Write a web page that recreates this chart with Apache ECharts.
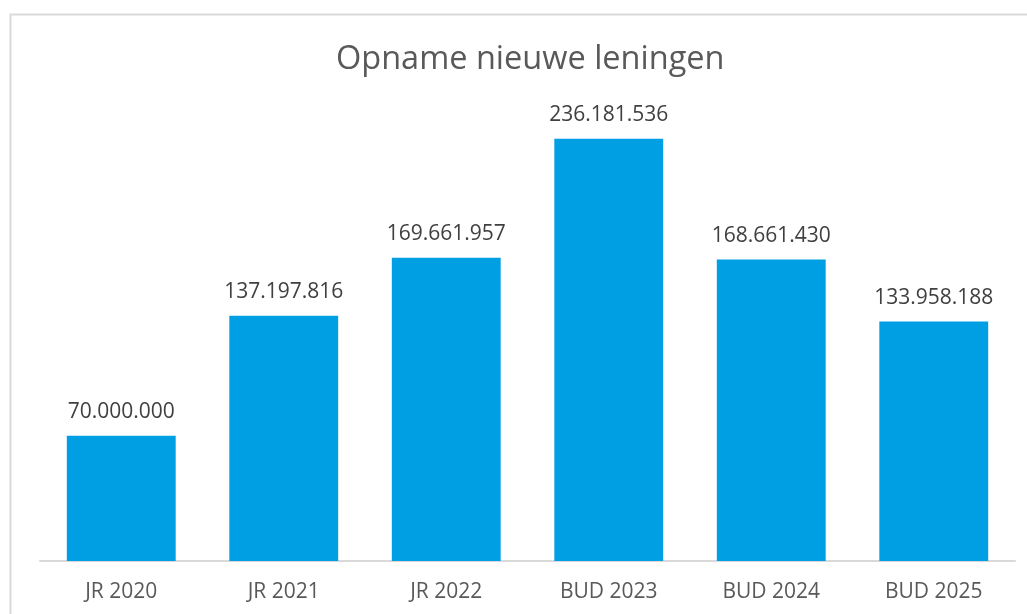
<!DOCTYPE html>
<html>
<head>
<meta charset="utf-8">
<script src="https://cdn.jsdelivr.net/npm/echarts@6/dist/echarts.min.js"></script>
<style>
  html, body { margin: 0; padding: 0; background: #fff; }
  #container { width: 1027px; height: 614px; }
</style>
</head>
<body>
<div id="container"></div>
<script>
const categories = ['JR 2020', 'JR 2021', 'JR 2022', 'BUD 2023', 'BUD 2024', 'BUD 2025'];
const values = [70000000, 137197816, 169661957, 236181536, 168661430, 133958188];

const chart = echarts.init(document.getElementById('container'));

function dots(v) {
  return String(v).replace(/\B(?=(\d{3})+(?!\d))/g, '.');
}

const option = {
  animation: false,
  backgroundColor: '#fff',
  title: {
    text: 'Opname nieuwe leningen',
    left: 331,
    top: 38,
    textStyle: {
      fontFamily: 'Open Sans',
      fontWeight: 'normal',
      fontSize: 32.5,
      color: '#595959'
    }
  },
  graphic: [{
    type: 'rect',
    shape: { x: 10.5, y: 14.5, width: 1030, height: 620 },
    style: { fill: 'none', stroke: '#d9d9d9', lineWidth: 2 },
    silent: true
  }],
  grid: {
    left: 40,
    right: 12,
    top: 114,
    bottom: 53
  },
  xAxis: {
    type: 'category',
    data: categories,
    axisLine: { lineStyle: { color: '#d9d9d9', width: 2 } },
    axisTick: { show: false },
    axisLabel: {
      margin: 21,
      fontFamily: 'Open Sans',
      fontSize: 21,
      color: '#595959'
    }
  },
  yAxis: {
    type: 'value',
    min: 0,
    max: 250000000,
    show: false,
    splitLine: { show: false }
  },
  series: [{
    type: 'bar',
    data: values,
    barCategoryGap: '33%',
    itemStyle: { color: '#009fe3' },
    label: {
      show: true,
      position: 'top',
      distance: 13,
      formatter: p => dots(p.value),
      fontFamily: 'Open Sans',
      fontSize: 21,
      color: '#404040'
    }
  }]
};

chart.setOption(option);
</script>
</body>
</html>
